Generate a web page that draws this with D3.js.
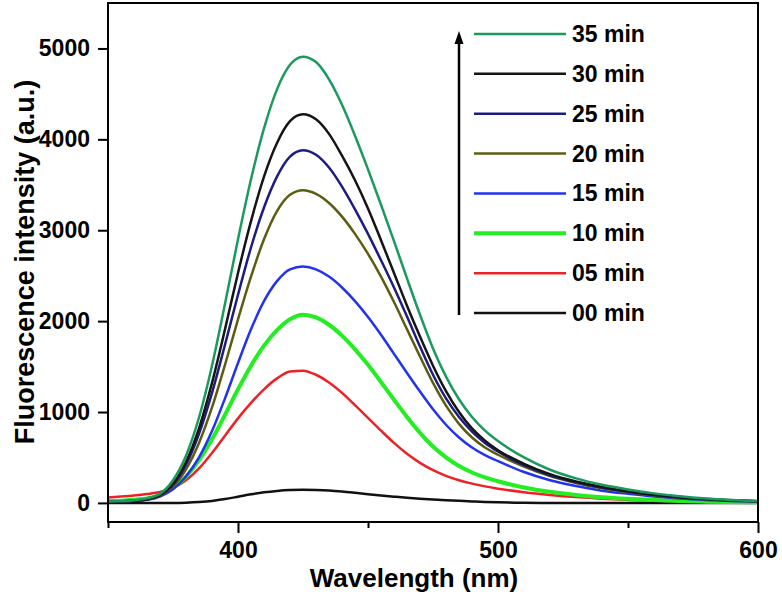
<!DOCTYPE html>
<html>
<head>
<meta charset="utf-8">
<script src="https://cdn.jsdelivr.net/npm/d3@7"></script>
<style>
  html, body { margin: 0; padding: 0; background: #fff; }
  svg { display: block; font-family: "Liberation Sans", Arial, sans-serif; font-weight: bold; }
</style>
</head>
<body>
<svg id="chart" width="782" height="596"></svg>
<script>
// ---- data ----
const wavelength = [350,355,360,365,370,375,380,385,390,395,400,405,410,415,420,425,430,435,440,445,450,455,460,465,470,475,480,485,490,495,500,510,520,530,540,550,560,570,580,590,600];

const min00 = [0,0,0,0,0,0,3,10,22,42,68,95,117,132,141,144,142,136,125,111,96,82,69,57,47,38,30,23,16,10,6,2,0,0,0,0,0,0,0,0,0];
const min05 = [60,70,82,98,120,165,250,380,550,740,930,1100,1250,1370,1445,1455,1410,1325,1210,1075,935,795,660,540,440,360,298,250,212,182,157,118,88,64,46,33,23,16,11,7,5];
const min10 = [20,25,35,50,85,165,290,470,700,970,1250,1510,1730,1900,2020,2070,2040,1960,1840,1690,1520,1330,1135,945,770,620,500,405,335,280,238,170,122,88,63,45,31,21,14,9,6];
const min15 = [15,18,25,35,70,150,290,500,790,1150,1540,1910,2220,2440,2570,2600,2570,2490,2370,2220,2045,1850,1640,1430,1225,1030,860,720,610,525,460,340,250,185,135,100,70,48,33,22,15];
const min20 = [15,18,25,38,80,180,370,660,1050,1520,2020,2490,2900,3210,3390,3440,3400,3300,3150,2960,2740,2490,2210,1910,1610,1320,1070,870,720,610,530,400,295,220,160,116,81,56,38,25,17];
const min25 = [15,18,25,38,85,200,420,760,1210,1740,2290,2810,3250,3590,3810,3880,3830,3690,3480,3230,2960,2670,2370,2050,1720,1410,1150,945,785,660,565,415,305,228,168,122,86,59,40,27,18];
const min30 = [15,18,25,40,85,210,450,820,1320,1910,2530,3100,3590,3960,4200,4275,4220,4060,3820,3550,3240,2890,2530,2170,1830,1510,1230,1000,820,685,580,430,315,235,175,128,90,62,42,28,18];
const min35 = [15,20,30,50,100,250,520,940,1510,2190,2900,3560,4120,4550,4820,4910,4850,4660,4380,4040,3670,3280,2880,2470,2070,1700,1390,1140,945,795,680,500,365,270,200,148,105,72,48,32,20];

const seriesNames = ["00 min","05 min","10 min","15 min","20 min","25 min","30 min","35 min"];
const seriesValues = [min00, min05, min10, min15, min20, min25, min30, min35];
const seriesColors = ["#111111","#ee2226","#22ee22","#2233ee","#5c5c12","#1c1c82","#151515","#1b9a5e"];
const seriesWidths = [2.5, 2.5, 4, 2.5, 2.5, 2.5, 2.5, 2.5];

const yTicks = [0,1000,2000,3000,4000,5000];
const xMajorTicks = [400,500,600];
const xMinorTicks = [350,450,550];

// ---- layout ----
const svg = d3.select("#chart");
svg.append("rect").attr("width",782).attr("height",596).attr("fill","#fff");

const L = 108, R = 758, T = 3, B = 522;
const x = d3.scaleLinear().domain([350,600]).range([L,R]);
const y = d3.scaleLinear().domain([-210,5500]).range([B,T]);

const clipId = "plotclip";
svg.append("clipPath").attr("id",clipId).append("rect")
  .attr("x",L).attr("y",T).attr("width",R-L).attr("height",B-T);

// curves
const line = d3.line().x(d => x(d[0])).y(d => y(d[1])).curve(d3.curveMonotoneX);
const g = svg.append("g").attr("clip-path",`url(#${clipId})`);
seriesValues.forEach((vals,i) => {
  const pts = wavelength.map((w,j) => [w, vals[j]]);
  g.append("path").datum(pts)
    .attr("d", line)
    .attr("fill","none")
    .attr("stroke", seriesColors[i])
    .attr("stroke-width", seriesWidths[i])
    .attr("stroke-linejoin","round");
});

// axes
const yAxis = d3.axisLeft(y).tickValues(yTicks).tickSize(10).tickPadding(8).tickFormat(d3.format("d"));
const ya = svg.append("g").attr("transform",`translate(${L},0)`).call(yAxis);
ya.select(".domain").remove();
ya.selectAll("line").attr("stroke","#000").attr("stroke-width",2);
ya.selectAll("text").attr("font-size",23).attr("font-weight","bold").attr("fill","#000")
  .attr("font-family",'"Liberation Sans", Arial, sans-serif');

const xAxis = d3.axisBottom(x).tickValues(xMajorTicks).tickSize(11).tickPadding(9).tickFormat(d3.format("d"));
const xa = svg.append("g").attr("transform",`translate(0,${B})`).call(xAxis);
xa.select(".domain").remove();
xa.selectAll("line").attr("stroke","#000").attr("stroke-width",2);
xa.selectAll("text").attr("font-size",23).attr("font-weight","bold").attr("fill","#000")
  .attr("font-family",'"Liberation Sans", Arial, sans-serif');

const xMinor = d3.axisBottom(x).tickValues(xMinorTicks).tickSize(6).tickFormat("");
const xm = svg.append("g").attr("transform",`translate(0,${B})`).call(xMinor);
xm.select(".domain").remove();
xm.selectAll("line").attr("stroke","#000").attr("stroke-width",2);

// frame
svg.append("rect").attr("x",L).attr("y",T).attr("width",R-L).attr("height",B-T)
  .attr("fill","none").attr("stroke","#000").attr("stroke-width",2);

// axis titles
svg.append("text").attr("x",414).attr("y",587).attr("text-anchor","middle")
  .attr("font-size",26).attr("font-weight","bold").text("Wavelength (nm)");
svg.append("text").attr("transform","translate(34,262) rotate(-90)").attr("text-anchor","middle")
  .attr("font-size",27).attr("font-weight","bold").text("Fluorescence intensity (a.u.)");

// legend (top to bottom: 35 min ... 00 min)
const legendOrder = d3.range(seriesNames.length).reverse();
const legY = d3.scalePoint().domain(legendOrder).range([34,313]);
const leg = svg.append("g");
legendOrder.forEach(i => {
  const cy = legY(i);
  leg.append("line").attr("x1",474).attr("x2",566).attr("y1",cy).attr("y2",cy)
    .attr("stroke",seriesColors[i]).attr("stroke-width",seriesWidths[i]);
  leg.append("text").attr("x",572).attr("y",cy+8).attr("font-size",23).attr("font-weight","bold")
    .text(seriesNames[i]);
});

// arrow
svg.append("line").attr("x1",459).attr("x2",459).attr("y1",315).attr("y2",42)
  .attr("stroke","#000").attr("stroke-width",2.5);
svg.append("path").attr("d","M459,31 L454.5,44 L463.5,44 Z").attr("fill","#000");
</script>
</body>
</html>
